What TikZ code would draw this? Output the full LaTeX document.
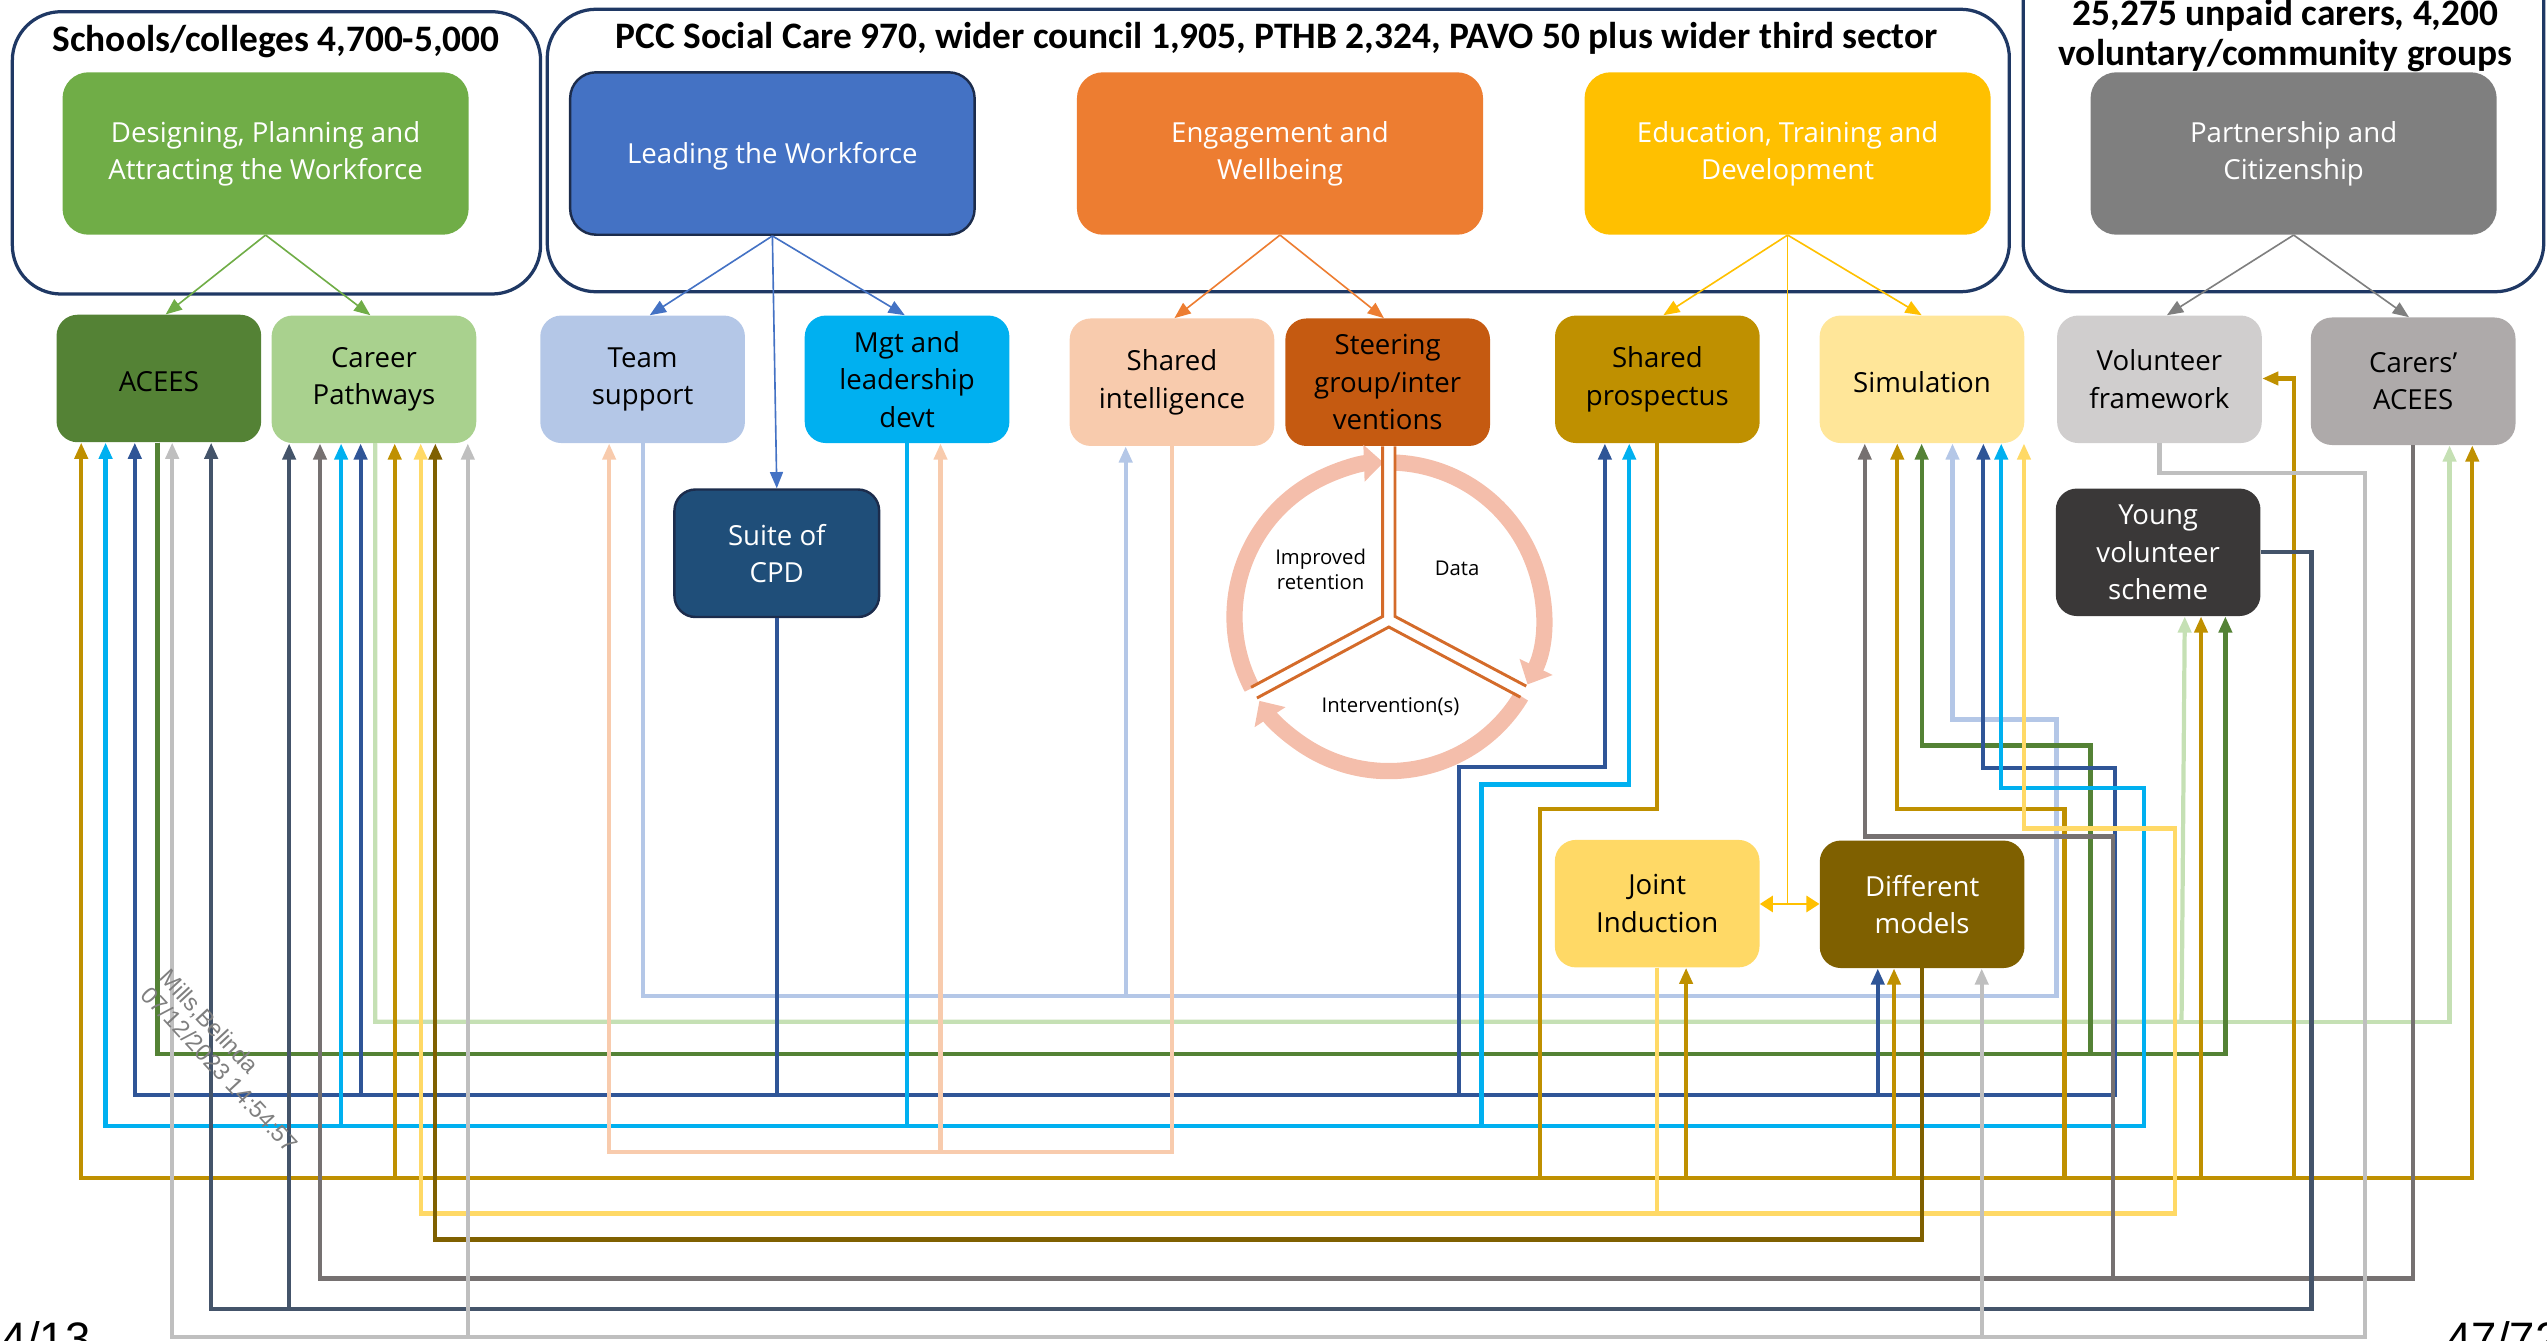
\documentclass[tikz,border=0pt]{standalone}
\usepackage{fontspec}
\setmainfont{Open Sans}
\newfontfamily\titlefont{Carlito}
\newfontfamily\wmfont{Liberation Sans}
\usetikzlibrary{arrows.meta}
\definecolor{cNavy}{HTML}{1F3864}
\definecolor{cGA}{HTML}{70AD47}
\definecolor{cGB}{HTML}{548235}
\definecolor{cGC}{HTML}{A9D18E}
\definecolor{cGL}{HTML}{C5E0B4}
\definecolor{cBA}{HTML}{4472C4}
\definecolor{cBL}{HTML}{B4C7E7}
\definecolor{cBC}{HTML}{00B0F0}
\definecolor{cBD}{HTML}{1F4E79}
\definecolor{cBW}{HTML}{2F5597}
\definecolor{cBrd}{HTML}{1C2C4C}
\definecolor{cOA}{HTML}{ED7D31}
\definecolor{cOL}{HTML}{F8CBAD}
\definecolor{cOD}{HTML}{C55A11}
\definecolor{cYA}{HTML}{FFC000}
\definecolor{cYD}{HTML}{BF9000}
\definecolor{cYL}{HTML}{FFE699}
\definecolor{cYM}{HTML}{FFD966}
\definecolor{cYB}{HTML}{7F6000}
\definecolor{cKA}{HTML}{7F7F7F}
\definecolor{cKL}{HTML}{D0CECE}
\definecolor{cKM}{HTML}{AEAAAA}
\definecolor{cKD}{HTML}{3A3838}
\definecolor{cKG}{HTML}{767171}
\definecolor{cKS}{HTML}{44546A}
\definecolor{cKW}{HTML}{BFBFBF}
\definecolor{cRing}{HTML}{F4BEAB}
\definecolor{cSpoke}{HTML}{D46B2A}
\begin{document}
\begin{tikzpicture}[x=1pt,y=-1pt,
  cont/.style={draw=cNavy, line width=2pt, rounded corners=30pt},
  big/.style={rounded corners=16pt, minimum width=250pt, minimum height=100pt, inner sep=0pt, align=center, text=white, font=\fontsize{17}{23}\selectfont, execute at begin node={\rule{0pt}{16.5pt}}},
  sm/.style={rounded corners=13pt, minimum width=126pt, minimum height=78.5pt, inner sep=0pt, align=center, font=\fontsize{17}{23}\selectfont, execute at begin node={\rule{0pt}{16.5pt}}},
  feed/.style={line width=1pt, -{Triangle[width=8pt,length=10pt]}},
  wire/.style={line width=2.6pt},
  tip/.style={-{Triangle[width=8pt,length=10pt]}},
  ttl/.style={font=\titlefont\bfseries\fontsize{23}{28}\selectfont, inner sep=0pt, anchor=base},
  ring/.style={line width=10pt, draw=cRing, -{Triangle[width=22pt,length=12pt]}},
  spk/.style={line width=1.8pt, draw=cSpoke},
  lbl/.style={font=\fontsize{12.5}{15.5}\selectfont, align=center, inner sep=0pt},
]
\useasboundingbox (0,0) rectangle (1568,825);

% containers
\draw[cont] (7.6,7.2) rectangle (332.8,181);
\draw[cont] (336.9,5.7) rectangle (1237,179.6);
\draw[cont] (1245.5,-40) rectangle (1566,179.6);
\node[ttl] (t1) at (170,31.5) {Schools/colleges 4,700-5,000};
\node[ttl] (t2) at (786,30) {PCC Social Care 970, wider council 1,905, PTHB 2,324, PAVO 50 plus wider third sector};
\node[ttl] (t3a) at (1407,16) {25,275 unpaid carers, 4,200};
\node[ttl] (t3b) at (1407,40.5) {voluntary/community groups};

% top boxes
\node[big, fill=cGA] (des) at (163.5,94.5) {Designing, Planning and\\Attracting the Workforce};
\node[big, fill=cBA, draw=cBrd, line width=1.5pt, minimum width=249pt] (lead) at (475.5,94.5) {Leading the Workforce};
\node[big, fill=cOA] (eng) at (788,94.5) {Engagement and\\Wellbeing};
\node[big, fill=cYA] (edu) at (1100.5,94.5) {Education, Training and\\Development};
\node[big, fill=cKA] (part) at (1412,94.5) {Partnership and\\Citizenship};

% second row
\node[sm, fill=cGB] (acees) at (97.8,233) {ACEES};
\node[sm, fill=cGC] (cp) at (230.2,233.5) {Career\\Pathways};
\node[sm, fill=cBL] (ts) at (395.6,233.5) {Team\\support};
\node[sm, fill=cBC] (mgt) at (558.4,233.5) {Mgt and\\leadership\\devt};
\node[sm, fill=cOL] (si) at (721.5,235.3) {Shared\\intelligence};
\node[sm, fill=cOD] (st) at (854.3,235.3) {Steering\\group/inter\\ventions};
\node[sm, fill=cYD] (sp) at (1020.3,233.5) {Shared\\prospectus};
\node[sm, fill=cYL] (sim) at (1183.2,233.5) {Simulation};
\node[sm, fill=cKL] (vf) at (1329.4,233.5) {Volunteer\\framework};
\node[sm, fill=cKM] (ca) at (1485.6,234.7) {Carers’\\ACEES};
\node[sm, fill=cBD, draw=cBrd, line width=1.5pt, text=white] (cpd) at (478.2,340.6) {Suite of\\CPD};
\node[sm, fill=cKD, text=white] (yv) at (1328.6,340) {Young\\volunteer\\scheme};
\node[sm, fill=cYM] (ji) at (1020.2,556.3) {Joint\\Induction};
\node[sm, fill=cYB, text=white] (dm) at (1183.3,556.7) {Different\\models};

% feeds from the themes
\draw[feed, draw=cGA] (des.south) -- (acees.north -| 102,0);
\draw[feed, draw=cGA] (des.south) -- (cp.north -| 228,0);
\draw[feed, draw=cBA] (lead.south) -- (ts.north -| 400,0);
\draw[feed, draw=cBA] (lead.south) -- (mgt.north -| 557,0);
\draw[feed, draw=cBA] (lead.south) -- (cpd.north);
\draw[feed, draw=cOA] (eng.south) -- (si.north -| 723,0);
\draw[feed, draw=cOA] (eng.south) -- (st.north -| 852,0);
\draw[feed, draw=cYA] (edu.south) -- (sp.north -| 1024,0);
\draw[feed, draw=cYA] (edu.south) -- (sim.north -| 1183,0);
\draw[feed, draw=cKA] (part.south) -- (vf.north -| 1334,0);
\draw[feed, draw=cKA] (part.south) -- (ca.north -| 1483,0);
\draw[line width=1pt, draw=cYA] (edu.south) -- (edu.south |- 0,556.5);
\draw[line width=1.3pt, draw=cYA, {Triangle[width=10pt,length=8pt]}-{Triangle[width=10pt,length=8pt]}] (ji.east |- 0,556.5) -- (dm.west |- 0,556.5);

% light blue: team support
\draw[wire, draw=cBL, tip] (ts.south -| 396,0) |- (693,613) -- (si.south -| 693,0);
\draw[wire, draw=cBL, tip] (ts.south -| 396,0) |- (1266,613) |- (1202,443) -- (sim.south -| 1202,0);
% light green: career pathways
\draw[wire, draw=cGL, tip] (cp.south -| 231,0) |- (1508,629) -- (ca.south -| 1508,0);
\draw[wire, draw=cGL, tip] (cp.south -| 231,0) |- (1343,629) -- (yv.south -| 1345,0);
% dark green: ACEES
\draw[wire, draw=cGB, tip] (acees.south -| 97,0) |- (1370,649) -- (yv.south -| 1370,0);
\draw[wire, draw=cGB, tip] (acees.south -| 97,0) |- (1287,649) |- (1183,459) -- (sim.south -| 1183,0);
% blue: suite of CPD
\draw[wire, draw=cBW, tip] (cpd.south) |- (83,674) -- (acees.south -| 83,0);
\draw[wire, draw=cBW, tip] (cpd.south) |- (222,674) -- (cp.south -| 222,0);
\draw[wire, draw=cBW, tip] (cpd.south) |- (898,674) |- (988,472) -- (sp.south -| 988,0);
\draw[wire, draw=cBW, tip] (cpd.south) |- (1156,674) -- (dm.south -| 1156,0);
\draw[wire, draw=cBW, tip] (cpd.south) |- (1302,674) |- (1221,473) -- (sim.south -| 1221,0);
% cyan: mgt and leadership
\draw[wire, draw=cBC, tip] (mgt.south) |- (65,693) -- (acees.south -| 65,0);
\draw[wire, draw=cBC, tip] (mgt.south) |- (210,693) -- (cp.south -| 210,0);
\draw[wire, draw=cBC, tip] (mgt.south) |- (912,693) |- (1003,483) -- (sp.south -| 1003,0);
\draw[wire, draw=cBC, tip] (mgt.south) |- (1320,693) |- (1232,485) -- (sim.south -| 1232,0);
% peach: shared intelligence
\draw[wire, draw=cOL, tip] (si.south) |- (375,709) -- (ts.south -| 375,0);
\draw[wire, draw=cOL, tip] (si.south) |- (579,709) -- (mgt.south -| 579,0);
% gold: shared prospectus
\coordinate (gJ) at (948,725);
\draw[wire, draw=cYD, tip] (sp.south) |- (gJ |- 0,498) |- (50,725) -- (acees.south -| 50,0);
\draw[wire, draw=cYD, tip] (gJ) -| (cp.south -| 243,0);
\draw[wire, draw=cYD, tip] (gJ) -| (ji.south -| 1038,0);
\draw[wire, draw=cYD, tip] (gJ) -| (dm.south -| 1166,0);
\draw[wire, draw=cYD, tip] (gJ) -| (1271,498) -| (sim.south -| 1168,0);
\draw[wire, draw=cYD, tip] (gJ) -| (yv.south -| 1355,0);
\draw[wire, draw=cYD, tip] (gJ) -| (1412,233) -- (vf.east |- 0,233);
\draw[wire, draw=cYD, tip] (gJ) -| (ca.south -| 1522,0);
% yellow: joint induction
\draw[wire, draw=cYM, tip] (ji.south) |- (259,747) -- (cp.south -| 259,0);
\draw[wire, draw=cYM, tip] (ji.south) |- (1339,747) |- (1246,510) -- (sim.south -| 1246,0);
% brown: different models
\draw[wire, draw=cYB, tip] (dm.south) |- (268,763) -- (cp.south -| 268,0);
% grey: carers ACEES
\draw[wire, draw=cKG, tip] (ca.south) |- (197,787) -- (cp.south -| 197,0);
\draw[wire, draw=cKG, tip] (ca.south) |- (1301,787) |- (1148,515) -- (sim.south -| 1148,0);
% slate: young volunteer scheme
\draw[wire, draw=cKS, tip] (yv.east) -| (1423,806) -| (acees.south -| 130,0);
\draw[wire, draw=cKS, tip] (yv.east) -| (1423,806) -| (cp.south -| 178,0);
% light grey: volunteer framework
\draw[wire, draw=cKW, tip] (vf.south) |- (1456,291) |- (106,823) -- (acees.south -| 106,0);
\draw[wire, draw=cKW, tip] (vf.south) |- (1456,291) |- (288,823) -- (cp.south -| 288,0);
\draw[wire, draw=cKW, tip] (vf.south) |- (1456,291) |- (1220,823) -- (dm.south -| 1220,0);

% cycle
\begin{scope}[shift={(855,379.7)}, yscale=-1]
  \draw[ring] (87.8:95) arc[start angle=87.8, end angle=-26, radius=95];
  \draw[ring] (-31:95) arc[start angle=-31, end angle=-147, radius=95];
  \draw[ring] (207.5:95) arc[start angle=207.5, end angle=92, radius=95];
\end{scope}
\draw[spk] (st.south -| 851.2,0) -- (851.2,379.5) -- (770.2,423.1);
\draw[spk] (st.south -| 858.8,0) -- (858.8,379.5) -- (939.6,422.4);
\draw[spk] (773.8,429.7) -- (855,386) -- (936,429.2);
\node[lbl] (l1) at (813,350.5) {Improved\\retention};
\node[lbl] (l2) at (897,350) {Data};
\node[lbl] (l3) at (856,435) {Intervention(s)};

% stamps
\node[rotate=-47, align=left, text=cKA, inner sep=0pt, font=\wmfont\fontsize{14.5}{15.5}\selectfont] (wm) at (141,653) {Mills,Belinda\\07/12/2023 14:54:57};
\node[anchor=base west, inner sep=0pt, font=\wmfont\fontsize{28}{30}\selectfont] (pg1) at (1,833.6) {4/13};
\node[anchor=base west, inner sep=0pt, font=\wmfont\fontsize{28}{30}\selectfont] (pg2) at (1506,833.6) {47/72};
\end{tikzpicture}
\end{document}
